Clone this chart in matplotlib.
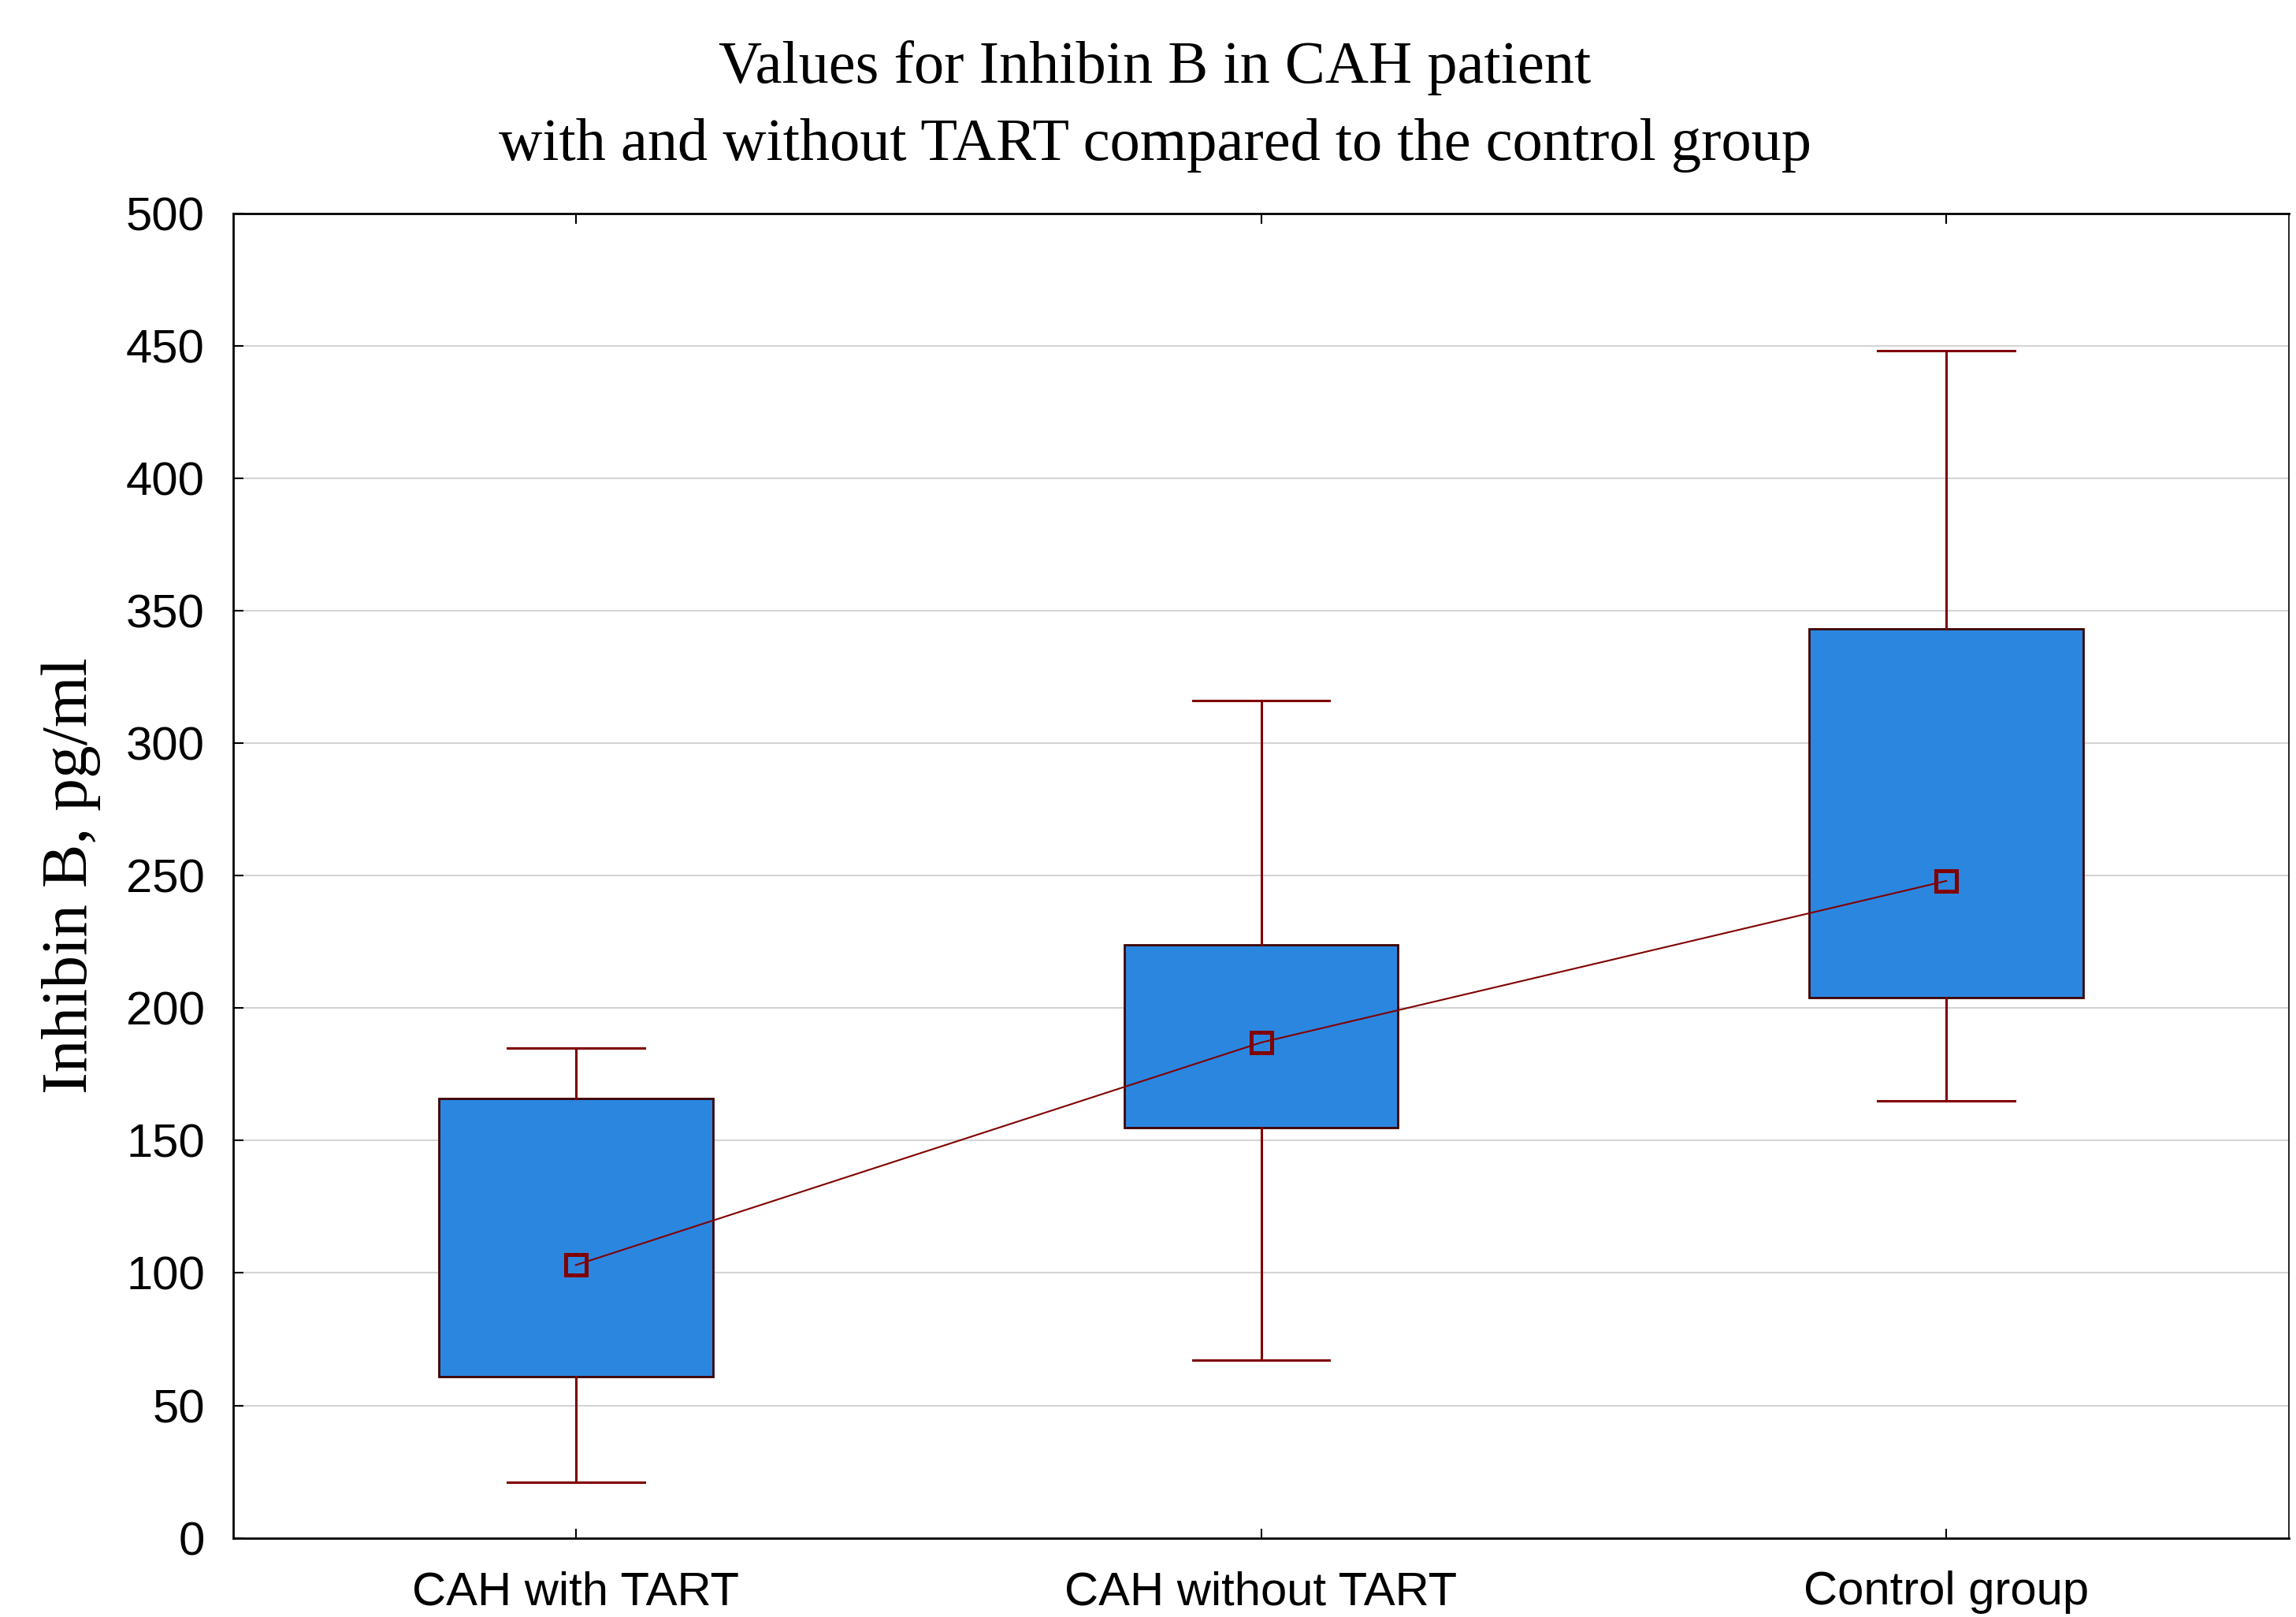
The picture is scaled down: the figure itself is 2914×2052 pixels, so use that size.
import numpy as np
import matplotlib
matplotlib.use("Agg")
from matplotlib import pyplot as plt

# values (pg/ml)
groups = ["CAH with TART", "CAH without TART", "Control group"]
whisker_low = [21, 67, 165]
box_low = [61, 155, 204]
center = [103, 187, 248]
box_high = [166, 224, 343]
whisker_high = [185, 316, 448]

yticks = np.arange(0, 501, 50)

box_face = "#2b86e0"
box_edge = "#3f0000"
dark_red = "#800000"
label_size = 43

fig = plt.figure(figsize=(29.14, 20.52), dpi=100)
ax = fig.add_axes([0.1016, 0.0489, 0.8953, 0.8192])

stats = []
for i in range(len(groups)):
    stats.append(dict(label=groups[i], whislo=whisker_low[i], q1=box_low[i],
                      med=center[i], q3=box_high[i], whishi=whisker_high[i], fliers=[]))

pos = np.arange(len(groups))
ax.bxp(stats, positions=pos, widths=0.40, capwidths=0.20, patch_artist=True,
       showfliers=False,
       boxprops=dict(facecolor=box_face, edgecolor=box_edge, linewidth=2.0),
       whiskerprops=dict(color=dark_red, linewidth=2.2),
       capprops=dict(color=dark_red, linewidth=2.2),
       medianprops=dict(linewidth=0),
       zorder=3)

# connecting line through the centre markers
ax.plot(pos, center, color=dark_red, linewidth=1.5, marker="s", markersize=19,
        markerfacecolor="none", markeredgecolor=dark_red, markeredgewidth=3.6, zorder=5)

ax.set_xlim(-0.5, 2.5)
ax.set_ylim(0, 500)
ax.set_yticks(yticks)
ax.set_xticks(pos)
ax.set_xticklabels(groups)
ax.yaxis.grid(True, color="#d4d4d4", linewidth=1.5, zorder=0)
ax.set_axisbelow(True)

ax.tick_params(axis="y", direction="in", length=9, width=1.5, labelsize=label_size,
               pad=26, left=True, right=False)
ax.tick_params(axis="x", direction="in", length=9, width=1.5, labelsize=label_size,
               pad=30, top=True, bottom=True)
for lab in ax.get_xticklabels() + ax.get_yticklabels():
    lab.set_family("Liberation Sans")

for side in ["left", "top", "bottom"]:
    ax.spines[side].set_linewidth(2.0)
ax.spines["right"].set_linewidth(1.2)

ax.set_ylabel("Inhibin B, pg/ml", family="Liberation Serif", fontsize=60, labelpad=23)
fig.text(0.503, 0.975, "Values for Inhibin B in CAH patient\nwith and without TART compared to the control group",
         ha="center", va="top", family="Liberation Serif", fontsize=55, linespacing=1.55)

fig.savefig("out.png", dpi=100)
